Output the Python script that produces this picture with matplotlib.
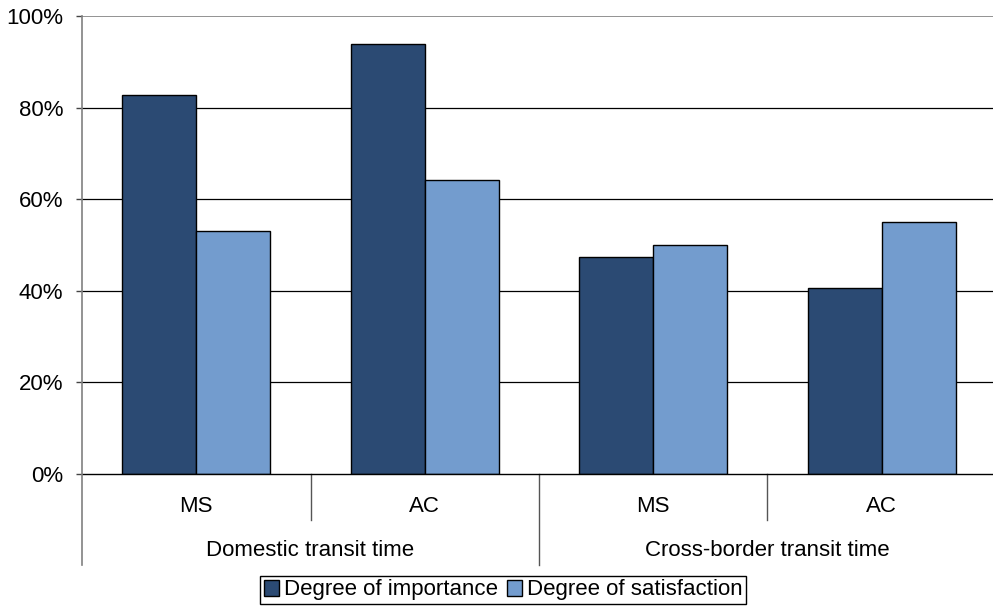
import numpy as np
import matplotlib.pyplot as plt
import matplotlib.transforms as mtransforms

plt.rcParams['font.family'] = ['Liberation Sans', 'DejaVu Sans']

groups = ["Domestic transit time", "Cross-border transit time"]
subcats = ["MS", "AC", "MS", "AC"]
importance = [82.7, 93.8, 47.4, 40.6]
satisfaction = [53.1, 64.2, 50.0, 55.0]
yticks = [0, 20, 40, 60, 80, 100]

dark = "#2B4A73"
light = "#739CCE"

fig = plt.figure(figsize=(9.93, 6.07), dpi=100)
ax = fig.add_axes([82/993, 133/607, 914/993, 458/607])

x = np.arange(len(subcats))
w = 0.324
ax.bar(x - w/2, importance, w, color=dark, edgecolor="black", linewidth=1,
       label="Degree of importance", zorder=3)
ax.bar(x + w/2, satisfaction, w, color=light, edgecolor="black", linewidth=1,
       label="Degree of satisfaction", zorder=3)

ax.set_xlim(-0.5, len(subcats) - 0.5)
ax.set_ylim(0, 100)
ax.set_yticks(yticks)
ax.set_yticklabels([f"{t}%" for t in yticks], fontsize=16)
ax.tick_params(axis="y", length=4.5, width=1, color="#444444", pad=9)
ax.set_xticks([])

for t in yticks[1:-1]:
    ax.axhline(t, color="black", linewidth=0.9, zorder=1)
ax.axhline(100, color="#808080", linewidth=1.2, zorder=1)
ax.axhline(0, color="black", linewidth=1, zorder=4, clip_on=False)

for s in ax.spines.values():
    s.set_visible(False)

trans = mtransforms.blended_transform_factory(ax.transData, ax.transAxes)
# left axis line runs down through the category label rows
ax.plot([-0.5, -0.5], [1, -0.199], color="#808080", linewidth=1.2,
        transform=trans, clip_on=False, zorder=4)
# separators between sub-categories and between groups
ax.plot([0.5, 0.5], [0, -0.100], color="#555555", linewidth=1,
        transform=trans, clip_on=False)
ax.plot([2.5, 2.5], [0, -0.100], color="#555555", linewidth=1,
        transform=trans, clip_on=False)
ax.plot([1.5, 1.5], [0, -0.199], color="#555555", linewidth=1,
        transform=trans, clip_on=False)

for i, lab in enumerate(subcats):
    ax.text(i, -0.072, lab, transform=trans, ha="center", va="center", fontsize=16)
for g, lab in enumerate(groups):
    ax.text(2*g + 0.5, -0.168, lab, transform=trans, ha="center", va="center",
            fontsize=16)

leg = fig.legend(loc="center", bbox_to_anchor=(503/993, 1 - 590/607), ncol=2,
                 fontsize=16, frameon=True, fancybox=False, edgecolor="black",
                 framealpha=1, handlelength=0.7, handleheight=0.7,
                 handletextpad=0.2, columnspacing=0.4, borderpad=0.15,
                 borderaxespad=0)
leg.get_frame().set_linewidth(1)

fig.savefig("out.png", dpi=100)
